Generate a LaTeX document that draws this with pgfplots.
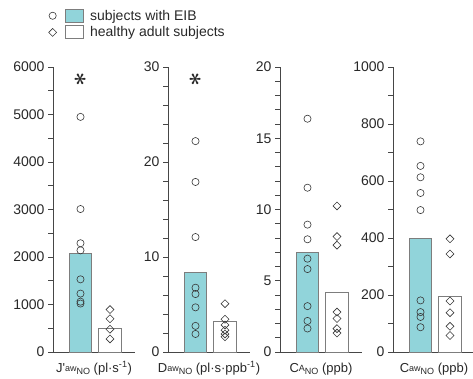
\documentclass[border=0pt]{standalone}
\usepackage{pgfplots}
\pgfplotsset{compat=1.18}
\usepackage{fontspec}
\setmainfont{Liberation Sans}
\newfontfamily\rawsans{Liberation Sans}
\definecolor{eib}{RGB}{145,212,218}
\definecolor{axc}{RGB}{70,70,70}
\definecolor{mkc}{RGB}{55,55,55}
\definecolor{barc}{RGB}{125,125,125}
\definecolor{txt}{RGB}{40,40,40}
\newcommand\lab[3]{#1{\fontsize{9}{9}\selectfont\raisebox{1pt}{#2}\raisebox{-2pt}{#3}}}
\tikzset{astnode/.style={font=\fontsize{24}{24}\selectfont\boldmath, text=txt, rotate=90}}

\pgfplotsset{
 panel/.style={
  scale only axis, width=82pt, height=285pt, anchor=south west,
  axis x line*=bottom, axis y line*=left,
  axis line style={axc, line width=0.8pt},
  xmin=0.068, xmax=2.848, ymin=0,
  xtick=\empty,
  tick align=outside, major tick length=5pt, minor tick length=5pt,
  tick style={axc, line width=0.8pt},
  /pgf/number format/assume math mode=true,
  /pgf/number format/1000 sep={},
  yticklabel style={font=\fontsize{14}{16}\selectfont, text=txt},
  xlabel style={at={(axis description cs:0.5,0)}, anchor=base, yshift=-20pt, font=\fontsize{13}{15}\selectfont, text=txt},
  clip=false,
 },
 eibbar/.style={ybar, bar shift=0pt, bar width=22.5pt, fill=eib, draw=barc, line width=0.8pt},
 hbar/.style={ybar, bar shift=0pt, bar width=22.5pt, fill=white, draw=barc, line width=0.8pt},
 circ/.style={only marks, mark=o, mark size=3.6pt, mark options={mkc, line width=0.6pt}, forget plot},
 diam/.style={only marks, mark=square, mark size=2.8pt, mark options={mkc, line width=0.6pt, rotate=45}, forget plot},
}

\begin{document}
\begin{tikzpicture}
\path[use as bounding box] (0,0) rectangle (473pt,378pt);

% Panel 1
\begin{axis}[panel, at={(53pt,26pt)}, ymax=6000, ytick distance=1000, minor tick num=1,
  xlabel={\lab{J{\rawsans '}}{aw}{NO} (pl·s\textsuperscript{-1})},
  legend style={at={(axis description cs:-0.095,1.215)}, anchor=north west, draw=none, fill=none,
    font=\fontsize{14}{16}\selectfont, text=txt, row sep=1pt},
  legend cell align=left]
\addplot[eibbar, legend image code/.code={
   \draw[draw=mkc, fill=none, line width=0.6pt] (0pt,0pt) circle (3.6pt);
   \draw[fill=eib, draw=barc, line width=0.8pt] (13pt,-6.5pt) rectangle (31pt,6.5pt);
   \path (35pt,0pt);}]
   coordinates {(1,2070)};
\addlegendentry{subjects with EIB}
\addplot[hbar, legend image code/.code={
   \draw[draw=mkc, fill=none, line width=0.6pt, rotate=45] (-2.8pt,-2.8pt) rectangle (2.8pt,2.8pt);
   \draw[fill=white, draw=barc, line width=0.8pt] (13pt,-6.5pt) rectangle (31pt,6.5pt);
   \path (35pt,0pt);}]
   coordinates {(2,490)};
\addlegendentry{healthy adult subjects}
\addplot[circ] coordinates {(1,4950) (1,3010) (1,2290) (1,2140) (1,1530) (1,1230) (1,1060) (1,1020)};
\addplot[diam] coordinates {(2,893) (2,700) (2,480) (2,275)};
\node[astnode] at (axis cs:1,5750) {$\ast$};
\end{axis}

% Panel 2
\begin{axis}[panel, at={(168pt,26pt)}, ymax=30, ytick={0,10,20,30}, minor tick num=4,
  xlabel={\lab{D}{aw}{NO} (pl·s·ppb\textsuperscript{-1})}]
\addplot[eibbar] coordinates {(1,8.4)};
\addplot[hbar] coordinates {(2,3.17)};
\addplot[circ] coordinates {(1,22.2) (1,17.9) (1,12.1) (1,6.77) (1,6.1) (1,4.7) (1,2.75) (1,1.9)};
\addplot[diam] coordinates {(2,5.09) (2,3.45) (2,2.85) (2,2.3) (2,1.9) (2,1.6)};
\node[astnode] at (axis cs:1,28.7) {$\ast$};
\end{axis}

% Panel 3
\begin{axis}[panel, at={(280pt,26pt)}, ymax=20, ytick={0,5,10,15,20}, minor tick num=4,
  xlabel={\lab{C}{A}{NO} (ppb)}]
\addplot[eibbar] coordinates {(1,7.02)};
\addplot[hbar] coordinates {(2,4.2)};
\addplot[circ] coordinates {(1,16.37) (1,11.53) (1,8.94) (1,7.91) (1,6.55) (1,5.82) (1,3.22) (1,2.18) (1,1.65)};
\addplot[diam] coordinates {(2,10.25) (2,8.1) (2,7.5) (2,2.8) (2,2.35) (2,1.64) (2,1.33)};
\end{axis}

% Panel 4
\begin{axis}[panel, at={(393pt,26pt)}, ymax=1000, ytick distance=200, minor tick num=1,
  xlabel={\lab{C}{aw}{NO} (ppb)}]
\addplot[eibbar] coordinates {(1,400)};
\addplot[hbar] coordinates {(2,194)};
\addplot[circ] coordinates {(1,739) (1,653) (1,613) (1,558) (1,498) (1,181) (1,140) (1,123) (1,87)};
\addplot[diam] coordinates {(2,397) (2,344) (2,179) (2,138) (2,90) (2,58)};
\end{axis}
\end{tikzpicture}
\end{document}
